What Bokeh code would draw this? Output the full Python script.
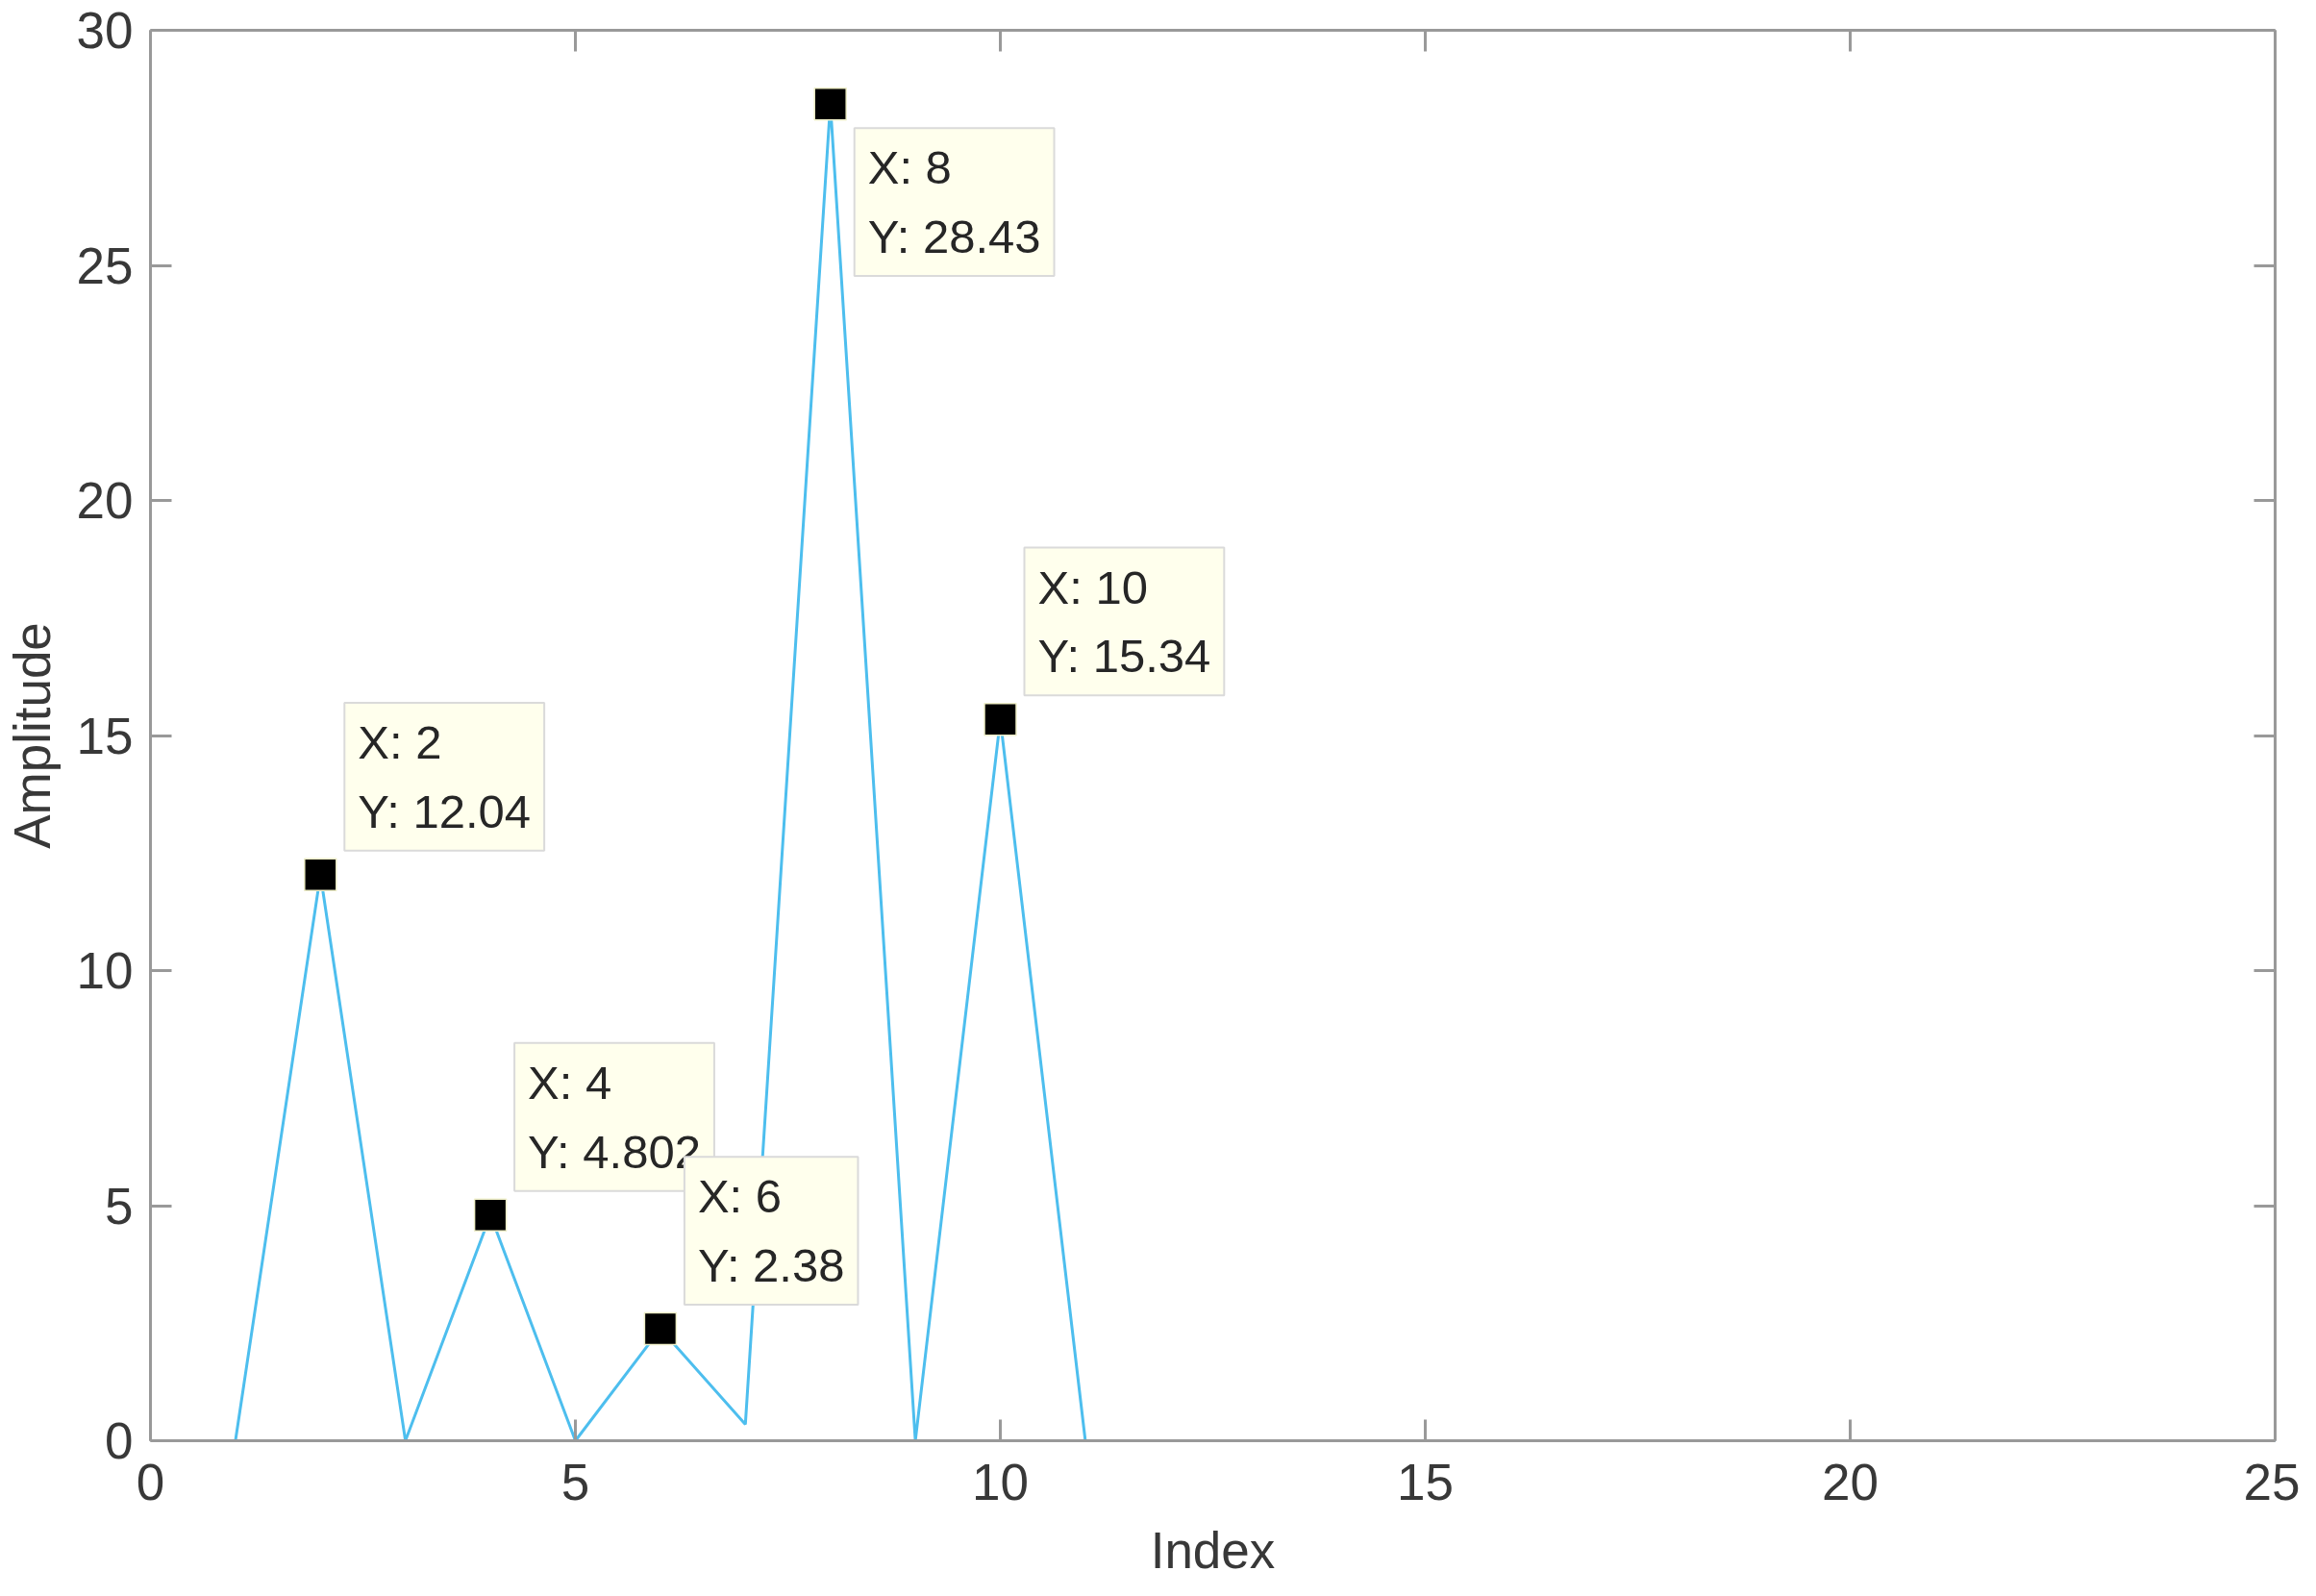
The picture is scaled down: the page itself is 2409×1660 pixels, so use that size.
from bokeh.plotting import figure
from bokeh.models import (Range1d, LinearAxis, FixedTicker, CustomJSTickFormatter,
                          Label, ColumnDataSource)
from bokeh.embed import file_html
from bokeh.resources import INLINE

# ---- data ----
index = list(range(1, 26))
amplitude = [0, 12.04, 0, 4.802, 0, 2.38, 0.35, 28.43, 0, 15.34,
             0, 0, 0, 0, 0, 0, 0, 0, 0, 0, 0, 0, 0, 0, 0]
tip_index = [2, 4, 6, 8, 10]
tip_side = ["above", "above", "above", "below", "above"]
x_ticks = [0, 5, 10, 15, 20, 25]
y_ticks = [0, 5, 10, 15, 20, 25, 30]
x_label = "Index"
y_label = "Amplitude"

FONT = "Liberation Sans"
TXT = "#383838"
AX = "#999999"

p = figure(width=2392, height=1644, output_backend="svg", toolbar_location=None,
           x_range=Range1d(0, 25), y_range=Range1d(0, 30),
           min_border_left=150, min_border_top=31, min_border_right=26,
           min_border_bottom=130)
p.outline_line_color = None
p.xgrid.visible = False
p.ygrid.visible = False
p.background_fill_color = "white"
p.border_fill_color = "white"

def style_axis(ax, ticks, show_labels=True):
    ax.ticker = FixedTicker(ticks=ticks)
    ax.axis_line_color = AX
    ax.axis_line_width = 3
    ax.major_tick_line_color = AX
    ax.major_tick_line_width = 3
    ax.major_tick_in = 22
    ax.major_tick_out = 0
    ax.minor_tick_line_color = None
    ax.major_label_text_font = FONT
    ax.major_label_text_font_size = "53px"
    ax.major_label_text_color = TXT
    ax.axis_label_text_font = FONT
    ax.axis_label_text_font_size = "53px"
    ax.axis_label_text_color = TXT
    ax.axis_label_text_font_style = "normal"
    if not show_labels:
        ax.formatter = CustomJSTickFormatter(code="return ''")

style_axis(p.xaxis[0], x_ticks)
style_axis(p.yaxis[0], y_ticks)
p.xaxis[0].axis_label = x_label
p.yaxis[0].axis_label = y_label
p.xaxis[0].major_label_standoff = 24
p.xaxis[0].axis_label_standoff = 20
p.yaxis[0].major_label_standoff = 18
p.yaxis[0].axis_label_standoff = 14

rax = LinearAxis()
style_axis(rax, y_ticks, show_labels=False)
p.add_layout(rax, "right")
tax = LinearAxis()
style_axis(tax, x_ticks, show_labels=False)
p.add_layout(tax, "above")

src = ColumnDataSource(dict(x=index, y=amplitude))
ln = p.line("x", "y", source=src, line_color="#4DBEEE", line_width=3)
ln.level = "guide"

tx = [index[index.index(i)] for i in tip_index]
ty = [amplitude[index.index(i)] for i in tip_index]
sc = p.scatter(tx, ty, marker="square", size=33, fill_color="black",
               line_color="#EEEEC8", line_width=1.5)
sc.level = "guide"

for x, y, side in zip(tx, ty, tip_side):
    txt = "X: %s\nY: %s" % (format(x, "g"), format(y, ".4g"))
    lab = Label(x=x, y=y, x_offset=25, y_offset=25 if side == "above" else -25,
                text=txt, text_align="left",
                text_baseline="bottom" if side == "above" else "top",
                text_font=FONT, text_font_size="49px", text_color="#262626",
                text_line_height=1.33,
                background_fill_color="#FFFFED", border_line_color="#DADADA",
                border_line_width=2, padding=14)
    p.add_layout(lab)

open("out.html", "w").write(file_html(p, INLINE))
